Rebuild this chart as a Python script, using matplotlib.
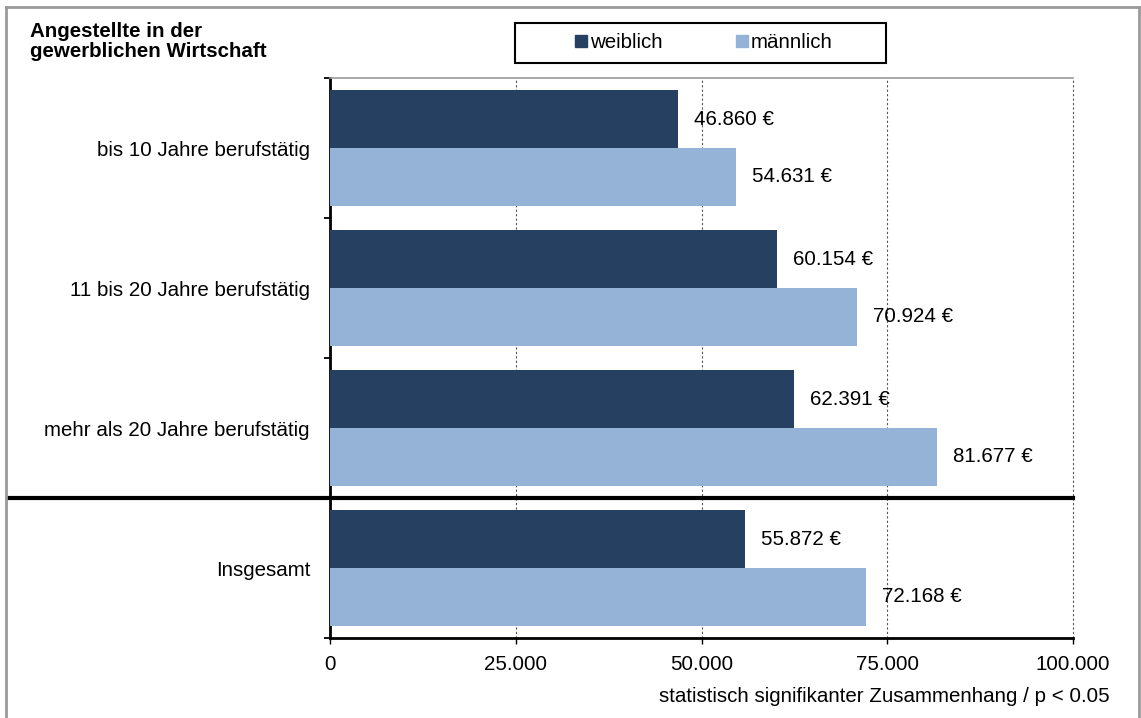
import numpy as np
import matplotlib
matplotlib.use("Agg")
from matplotlib import pyplot as plt
from matplotlib.lines import Line2D
from matplotlib.patches import Rectangle

plt.rcParams['font.family'] = ['Liberation Sans', 'DejaVu Sans']

# data
categories = ["bis 10 Jahre berufstätig", "11 bis 20 Jahre berufstätig",
              "mehr als 20 Jahre berufstätig", "Insgesamt"]
weiblich = [46860, 60154, 62391, 55872]
maennlich = [54631, 70924, 81677, 72168]
series_names = ["weiblich", "männlich"]
x_ticks = [0, 25000, 50000, 75000, 100000]
x_tick_labels = ["0", "25.000", "50.000", "75.000", "100.000"]

col_dark = "#254061"
col_light = "#95B3D7"
FS = 14.8

def fmt(v):
    return "{:,}".format(v).replace(",", ".") + " €"

fig = plt.figure(figsize=(11.41, 7.18), dpi=100)
ax = fig.add_axes([330 / 1141, 1 - 638 / 718, 743 / 1141, 560 / 718])

y = np.arange(len(categories))
h = 0.414
ax.barh(y - h / 2, weiblich, height=h, color=col_dark, zorder=3)
ax.barh(y + h / 2, maennlich, height=h, color=col_light, zorder=3)

for i in range(len(categories)):
    ax.annotate(fmt(weiblich[i]), (weiblich[i], y[i] - h / 2), xytext=(11.5, 0),
                textcoords="offset points", va="center", ha="left", fontsize=FS, zorder=4)
    ax.annotate(fmt(maennlich[i]), (maennlich[i], y[i] + h / 2), xytext=(11.5, 0),
                textcoords="offset points", va="center", ha="left", fontsize=FS, zorder=4)

ax.set_xlim(0, 100000)
ax.set_ylim(3.5, -0.5)
ax.set_xticks(x_ticks)
ax.set_xticklabels(x_tick_labels, fontsize=FS)
ax.set_yticks(y)
ax.set_yticklabels(categories, fontsize=FS)
ax.tick_params(axis="y", which="major", length=0, pad=14.4)
ax.set_yticks(np.arange(-0.5, len(categories)), minor=True)
ax.tick_params(axis="y", which="minor", length=4.5, width=1.3, direction="out")
ax.tick_params(axis="x", length=4, width=1, direction="out", pad=8)

for xv in x_ticks[1:]:
    ax.axvline(xv, color="#555555", lw=0.8, ls=(0, (2, 2)), zorder=1, clip_on=False)

for s in ["left", "bottom"]:
    ax.spines[s].set_linewidth(2)
    ax.spines[s].set_color("black")
ax.spines["top"].set_color("#999999")
ax.spines["top"].set_linewidth(1.2)
ax.spines["right"].set_visible(False)

# separator above "Insgesamt"
fig.add_artist(Line2D([8 / 1141, 1073 / 1141], [1 - 498 / 718, 1 - 498 / 718],
                      color="black", lw=3))

# outer frame
fc = "#9a9a9a"
fig.add_artist(Line2D([6 / 1141, 6 / 1141], [0, 1 - 7 / 718], color=fc, lw=2))
fig.add_artist(Line2D([6 / 1141, 1139 / 1141], [1 - 7 / 718, 1 - 7 / 718], color=fc, lw=2))
fig.add_artist(Line2D([1139 / 1141, 1139 / 1141], [0, 1 - 7 / 718], color=fc, lw=2))

# title
fig.text(30 / 1141, 1 - 22 / 718, "Angestellte in der\ngewerblichen Wirtschaft",
         fontsize=14.8, fontweight="bold", va="top", ha="left", linespacing=1.08)

# legend
fig.add_artist(Rectangle((515 / 1141, 1 - 63 / 718), 371 / 1141, 40 / 718,
                         transform=fig.transFigure, fill=False, ec="black", lw=1.5))
handles = [Rectangle((0, 0), 1, 1, color=col_dark), Rectangle((0, 0), 1, 1, color=col_light)]
fig.legend(handles, series_names, loc="center", bbox_to_anchor=(704 / 1141, 1 - 43 / 718),
           ncol=2, frameon=False, fontsize=FS, handlelength=0.55, handleheight=0.55,
           handletextpad=0.15, columnspacing=3.6)

fig.text(1110 / 1141, 1 - 697 / 718, "statistisch signifikanter Zusammenhang / p < 0.05",
         fontsize=FS, ha="right", va="center")

fig.savefig("out.png", dpi=100)
